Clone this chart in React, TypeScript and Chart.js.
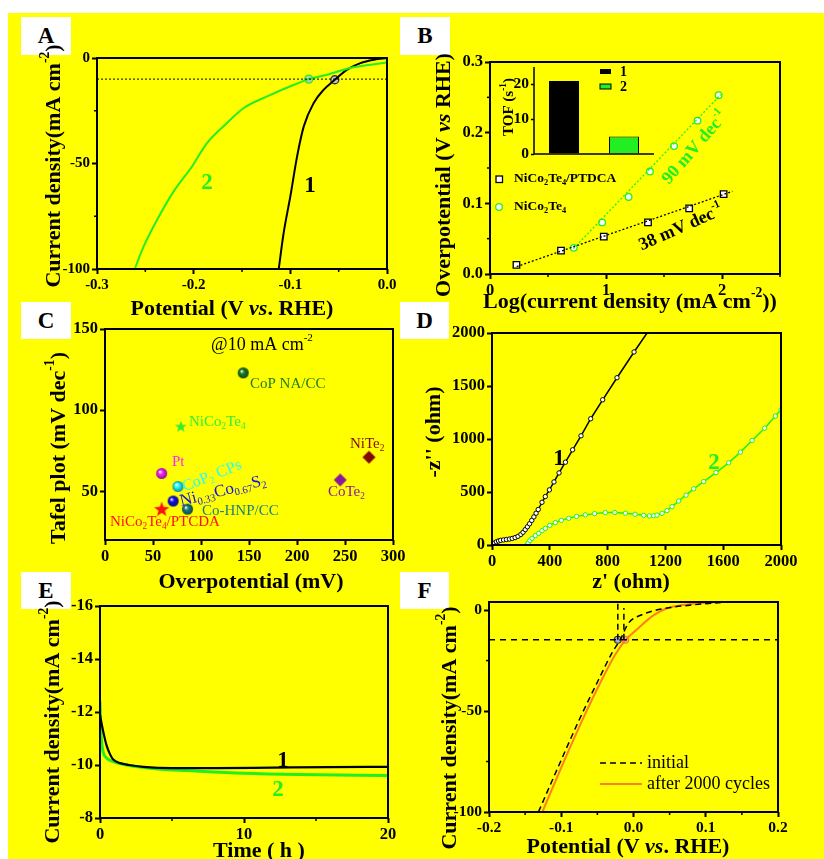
import React, { useEffect, useRef } from 'react';
import { Chart, registerables } from 'chart.js';
Chart.register(...registerables);

const W = 824;
const H = 859;
const AXW = 50;
const AXH = 26;
const FAM = '"Liberation Serif", "Times New Roman", "DejaVu Serif", serif';
const GREEN = '#22ee22';
const ORANGE = '#ff7f1e';

// ---------- Panel A : polarization curves ----------
const aPot1 = [-0.112, -0.1069, -0.1, -0.093, -0.0861, -0.0758, -0.0654, -0.054, -0.0413, -0.0275, -0.0136, 0];
const aCur1 = [-100, -82.9, -65.6, -46.6, -32.4, -21.3, -15.0, -10.3, -5.5, -2.4, -0.8, 0];
const aPot2 = [-0.261, -0.2517, -0.2396, -0.2207, -0.2017, -0.1862, -0.1655, -0.1482, -0.124, -0.1, -0.0809, -0.062, -0.0378, -0.0171, 0];
const aCur2 = [-100, -89.3, -78.2, -63.2, -51.4, -40.3, -30.8, -23.7, -18.2, -13.4, -10.0, -7.9, -4.7, -3.2, -2.1];
const aRefPot = [-0.3, 0];
const aRefCur = [-10, -10];
const aMarkPot = [-0.0809, -0.054];
const aMarkCur = [-10, -10.3];
const aTicksX = [-0.3, -0.2, -0.1, 0];
const aMinorX = [-0.25, -0.15, -0.05];
const aTicksY = [-100, -50, 0];
const aMinorY = [-75, -25];

// ---------- Panel B : Tafel ----------
const bLog1 = [0.228, 0.612, 0.981, 1.362, 1.717, 2.014];
const bEta1 = [0.013, 0.033, 0.053, 0.073, 0.093, 0.113];
const bLog2 = [0.722, 0.967, 1.195, 1.379, 1.587, 1.789, 1.971];
const bEta2 = [0.037, 0.073, 0.109, 0.145, 0.181, 0.217, 0.253];
const bFit1Log = [0.23, 2.09];
const bFit1Eta = [0.0105, 0.117];
const bFit2Log = [0.72, 1.99];
const bFit2Eta = [0.036, 0.254];
const bTicksX = [0, 1, 2];
const bMinorX = [0.5, 1.5, 2.5];
const bTicksY = [0, 0.1, 0.2, 0.3];
const bMinorY = [0.05, 0.15, 0.25];
// inset TOF
const tofLabels = ['1', '2'];
const tofValues = [21, 5];
const tofTicks = [0, 10, 20];

// ---------- Panel C : comparison ----------
const cNames = ['CoP NA/CC', 'NiCo2Te4', 'NiTe2', 'CoTe2', 'Pt', 'CoP2 CPs', 'Ni0.33Co0.67S2', 'Co-HNP/CC', 'NiCo2Te4/PTCDA'];
const cOverpotential = [144, 79, 275, 245, 59, 76, 71, 86, 59];
const cTafel = [123, 90, 71, 57, 61, 53, 44, 39, 39];
const cColors = ['#1f7f1f', '#33ee33', '#800a0a', '#8b1a9b', '#ff22ff', '#22ffff', '#1414e6', '#1a8080', '#ff1010'];
const cShapes = ['ball', 'star', 'diamond', 'diamond', 'ball', 'ball', 'ball', 'ball', 'bigstar'];
const cTicksX = [0, 50, 100, 150, 200, 250, 300];
const cTicksY = [50, 100, 150];

// ---------- Panel D : Nyquist ----------
const dRe1 = [0, 5, 15, 30, 45, 60, 80, 100, 120, 140, 160, 180, 200, 215, 230, 245, 260, 275, 290, 305, 320, 346, 369, 397, 429, 464, 508, 558, 616, 683, 766, 865, 983, 1073, 1090];
const dIm1 = [0, 5, 18, 30, 38, 44, 48, 52, 56, 62, 70, 82, 100, 120, 145, 172, 200, 232, 265, 300, 335, 403, 457, 520, 595, 680, 781, 898, 1030, 1191, 1370, 1578, 1821, 2000, 2035];
const dRe2 = [242, 250, 262, 277, 300, 323, 346, 369, 400, 438, 480, 531, 585, 646, 710, 784, 850, 923, 990, 1050, 1089, 1119, 1142, 1177, 1211, 1246, 1292, 1343, 1396, 1465, 1550, 1638, 1719, 1800, 1887, 1961, 2000];
const dIm2 = [0, 20, 42, 63, 88, 110, 135, 157, 185, 211, 233, 252, 270, 284, 296, 306, 306, 300, 290, 280, 274, 276, 282, 299, 324, 362, 415, 470, 530, 598, 683, 775, 876, 986, 1102, 1216, 1276];
const dTicksX = [0, 400, 800, 1200, 1600, 2000];
const dTicksY = [0, 500, 1000, 1500, 2000];

// ---------- Panel E : chronoamperometry ----------
const eTime1 = [0, 0.1, 0.25, 0.45, 0.7, 0.9, 1.4, 2, 3, 5, 8, 12, 16, 20];
const eCur1 = [-11.9, -11.6, -11.2, -10.75, -10.4, -10.22, -10.07, -10.0, -9.93, -9.88, -9.88, -9.9, -9.92, -9.93];
const eTime2 = [0, 0.05, 0.12, 0.23, 0.46, 0.92, 1.6, 2.8, 4.2, 6, 10, 13.8, 20];
const eCur2 = [-12.4, -11.5, -10.83, -10.47, -10.26, -10.13, -10.03, -9.92, -9.84, -9.79, -9.69, -9.64, -9.6];
const eTicksX = [0, 10, 20];
const eMinorX = [5, 15];
const eTicksY = [-16, -14, -12, -10, -8];

// ---------- Panel F : durability ----------
const fPotInit = [-0.1316, -0.1039, -0.0761, -0.0484, -0.0299, -0.0184, -0.0068, 0.0116, 0.03, 0.053, 0.0855, 0.122];
const fCurInit = [-100, -77.4, -55.1, -34.5, -21.3, -14.7, -6.4, -2.3, -0.13, 1.36, 2.7, 3.8];
const fPotAfter = [-0.1261, -0.0993, -0.0716, -0.0439, -0.0254, -0.0115, 0.007, 0.0255, 0.044, 0.0624, 0.0855, 0.1086, 0.122, 0.2];
const fCurAfter = [-100, -77.4, -55.1, -34.5, -22.1, -15.0, -8.9, -3.1, 0.53, 2.2, 3.2, 3.8, 4.0, 4.0];
const fRefPot = [-0.2, 0.2];
const fRefCur = [-14.7, -14.7];
const fVert1Pot = [-0.0217, -0.0217];
const fVert1Cur = [-14.7, 4];
const fVert2Pot = [-0.0133, -0.0133];
const fVert2Cur = [-14.7, 1.0];
const fMarkPot = [-0.0217, -0.0115];
const fMarkCur = [-14.7, -14.7];
const fTicksX = [-0.2, -0.1, 0, 0.1, 0.2];
const fMinorX = [-0.15, -0.05, 0.05, 0.15];
const fTicksY = [-100, -50, 0];
const fMinorY = [-75, -25];

// ---------- helpers ----------
const zip = (xs: number[], ys: number[]) => xs.map((x, i) => ({ x, y: ys[i] }));

type Seg = { t: string; s?: 'sup' | 'sub'; i?: boolean };
type TextItem = { x: number; y: number; segs: Seg[]; size?: number; bold?: boolean; color?: string; align?: 'left' | 'center'; rot?: number };

const fontOf = (size: number, bold: boolean, italic: boolean) =>
  `${italic ? 'italic ' : ''}${bold ? 'bold ' : ''}${size}px ${FAM}`;

function drawRich(ctx: CanvasRenderingContext2D, it: TextItem) {
  const size = it.size ?? 22;
  const bold = it.bold ?? true;
  ctx.save();
  ctx.translate(it.x, it.y);
  if (it.rot) ctx.rotate((it.rot * Math.PI) / 180);
  ctx.fillStyle = it.color ?? '#000';
  ctx.textBaseline = 'middle';
  ctx.textAlign = 'left';
  const parts = it.segs.map((sg) => {
    const sz = sg.s ? size * 0.62 : size;
    const f = fontOf(sz, bold, !!sg.i);
    ctx.font = f;
    return { sg, f, w: ctx.measureText(sg.t).width };
  });
  const total = parts.reduce((a, p) => a + p.w, 0);
  let cx = (it.align ?? 'center') === 'center' ? -total / 2 : 0;
  for (const p of parts) {
    ctx.font = p.f;
    const dy = p.sg.s === 'sup' ? -size * 0.38 : p.sg.s === 'sub' ? size * 0.28 : 0;
    ctx.fillText(p.sg.t, cx, dy);
    cx += p.w;
  }
  ctx.restore();
}

function deco(cfg: any) {
  return {
    id: 'deco',
    afterDraw(chart: any) {
      const ctx = chart.ctx as CanvasRenderingContext2D;
      const ca = chart.chartArea;
      ctx.save();
      ctx.strokeStyle = '#000';
      if (cfg.frame !== 'none') {
        ctx.lineWidth = cfg.frameWidth ?? 2;
        if (cfg.frame === 'lb') {
          ctx.beginPath();
          ctx.moveTo(ca.left, ca.top);
          ctx.lineTo(ca.left, ca.bottom);
          ctx.lineTo(ca.right, ca.bottom);
          ctx.stroke();
        } else {
          ctx.strokeRect(ca.left, ca.top, ca.right - ca.left, ca.bottom - ca.top);
        }
      }
      ctx.lineWidth = 1.5;
      const xs = chart.scales.x;
      const ys = chart.scales.y;
      (cfg.minorX || []).forEach((v: number) => {
        const p = xs.getPixelForValue(v);
        ctx.beginPath();
        ctx.moveTo(p, ca.bottom);
        ctx.lineTo(p, ca.bottom + 3);
        ctx.stroke();
      });
      (cfg.minorY || []).forEach((v: number) => {
        const p = ys.getPixelForValue(v);
        ctx.beginPath();
        ctx.moveTo(ca.left, p);
        ctx.lineTo(ca.left - 3, p);
        ctx.stroke();
      });
      if (cfg.extra) cfg.extra(ctx);
      (cfg.texts || []).forEach((t: TextItem) => drawRich(ctx, t));
      ctx.restore();
    },
  };
}

function linAxis(axis: 'x' | 'y', min: number, max: number, ticks: number[], fmt: (v: number) => string, size = 15, extra: any = {}) {
  return {
    type: 'linear',
    position: axis === 'x' ? 'bottom' : 'left',
    min,
    max,
    afterBuildTicks: (s: any) => {
      s.ticks = ticks.map((v) => ({ value: v }));
    },
    afterFit: (s: any) => {
      if (axis === 'x') s.height = AXH;
      else s.width = AXW;
    },
    grid: { display: true, drawOnChartArea: false, drawTicks: true, tickLength: 5, tickWidth: 2, tickColor: '#000', color: '#000' },
    border: { display: false },
    ticks: {
      font: { family: FAM, weight: 'bold', size },
      color: '#000',
      padding: 2,
      maxRotation: 0,
      autoSkip: false,
      callback: (v: any) => fmt(Number(v)),
    },
    ...extra,
  };
}

const pad = (L: number, T: number, R: number, B: number) => ({ left: L - AXW, top: T, right: W - R, bottom: H - B - AXH });

function baseOptions(area: number[], scales: any) {
  return {
    responsive: false,
    animation: false,
    events: [],
    layout: { padding: pad(area[0], area[1], area[2], area[3]) },
    plugins: { legend: { display: false }, tooltip: { enabled: false } },
    scales,
  };
}

const line = (data: any, color: string, width: number, extra: any = {}) => ({
  data,
  showLine: true,
  borderColor: color,
  borderWidth: width,
  pointRadius: 0,
  fill: false,
  tension: 0,
  ...extra,
});

function darken(hex: string, f: number) {
  const n = parseInt(hex.slice(1), 16);
  const r = Math.round(((n >> 16) & 255) * f);
  const g = Math.round(((n >> 8) & 255) * f);
  const b = Math.round((n & 255) * f);
  return `rgb(${r},${g},${b})`;
}

function makeMarker(shape: string, color: string) {
  const c = document.createElement('canvas');
  const size = shape === 'bigstar' ? 18 : shape === 'star' ? 14 : shape === 'diamond' ? 15 : 13;
  c.width = size;
  c.height = size;
  const ctx = c.getContext('2d') as CanvasRenderingContext2D;
  const m = size / 2;
  if (shape === 'ball') {
    const r = 5.5;
    const g = ctx.createRadialGradient(m - 1.8, m - 1.8, 0.3, m, m, r);
    g.addColorStop(0, '#ffffff');
    g.addColorStop(0.35, color);
    g.addColorStop(1, darken(color, 0.55));
    ctx.fillStyle = g;
    ctx.beginPath();
    ctx.arc(m, m, r, 0, Math.PI * 2);
    ctx.fill();
  } else if (shape === 'diamond') {
    const r = 6.5;
    ctx.fillStyle = color;
    ctx.beginPath();
    ctx.moveTo(m, m - r);
    ctx.lineTo(m + r, m);
    ctx.lineTo(m, m + r);
    ctx.lineTo(m - r, m);
    ctx.closePath();
    ctx.fill();
  } else {
    const R = shape === 'bigstar' ? 8 : 6.2;
    const r = R * 0.42;
    ctx.fillStyle = color;
    ctx.beginPath();
    for (let i = 0; i < 10; i++) {
      const a = -Math.PI / 2 + (i * Math.PI) / 5;
      const rr = i % 2 ? r : R;
      const px = m + rr * Math.cos(a);
      const py = m + 0.5 + rr * Math.sin(a);
      if (i === 0) ctx.moveTo(px, py);
      else ctx.lineTo(px, py);
    }
    ctx.closePath();
    ctx.fill();
  }
  return c;
}

const T = (t: string, s?: 'sup' | 'sub', i?: boolean): Seg => ({ t, s, i });
const curDensity = [T('Current density(mA cm'), T('-2', 'sup'), T(')')];
const potTitle = [T('Potential (V '), T('vs', undefined, true), T('. RHE)')];
const nico = [T('NiCo'), T('2', 'sub'), T('Te'), T('4', 'sub')];

const boxes = [
  { t: 'A', x: 21, y: 17, w: 50, h: 38 },
  { t: 'B', x: 400, y: 17, w: 50, h: 38 },
  { t: 'C', x: 21, y: 302, w: 50, h: 37 },
  { t: 'D', x: 400, y: 302, w: 49, h: 37 },
  { t: 'E', x: 21, y: 572, w: 50, h: 37 },
  { t: 'F', x: 400, y: 572, w: 49, h: 37 },
];

export default function App() {
  const refs = useRef<(HTMLCanvasElement | null)[]>([]);

  useEffect(() => {
    const charts: Chart[] = [];
    const cv = refs.current;

    // ---- A ----
    charts.push(
      new Chart(cv[0] as HTMLCanvasElement, {
        type: 'scatter',
        data: {
          datasets: [
            line(zip(aRefPot, aRefCur), '#000', 1, { borderDash: [2, 2] }),
            line(zip(aPot2, aCur2), GREEN, 2, { cubicInterpolationMode: 'monotone' }),
            line(zip(aPot1, aCur1), '#000', 2, { cubicInterpolationMode: 'monotone' }),
            {
              data: zip(aMarkPot, aMarkCur),
              showLine: false,
              pointRadius: 4,
              pointBackgroundColor: '#c4c4c4',
              pointBorderColor: [GREEN, '#333'],
              pointBorderWidth: 1.3,
            },
          ],
        } as any,
        options: baseOptions([97, 58, 387, 269], {
          x: linAxis('x', -0.3, 0, aTicksX, (v) => v.toFixed(1), 15),
          y: linAxis('y', -100, 0, aTicksY, (v) => String(v), 15),
        }) as any,
        plugins: [
          deco({
            minorX: aMinorX,
            minorY: aMinorY,
            texts: [
              { x: 54, y: 166, rot: -90, segs: curDensity },
              { x: 232, y: 309, segs: potTitle },
              { x: 207, y: 183, size: 23, color: GREEN, segs: [T('2')] },
              { x: 310, y: 186, size: 23, segs: [T('1')] },
            ],
          }),
        ],
      })
    );

    // ---- B ----
    charts.push(
      new Chart(cv[1] as HTMLCanvasElement, {
        type: 'scatter',
        data: {
          datasets: [
            line(zip(bFit1Log, bFit1Eta), '#000', 1.3, { borderDash: [2, 2] }),
            line(zip(bFit2Log, bFit2Eta), GREEN, 1.3, { borderDash: [2, 2] }),
            {
              data: zip(bLog1, bEta1),
              showLine: false,
              pointStyle: 'rect',
              pointRadius: 4.6,
              pointBackgroundColor: '#fff',
              pointBorderColor: '#000',
              pointBorderWidth: 1.3,
            },
            {
              data: zip(bLog2, bEta2),
              showLine: false,
              pointStyle: 'circle',
              pointRadius: 3.3,
              pointBackgroundColor: '#fff',
              pointBorderColor: GREEN,
              pointBorderWidth: 1.3,
            },
          ],
        } as any,
        options: baseOptions([490, 62, 780, 274], {
          x: linAxis('x', 0, 2.5, bTicksX, (v) => String(v), 16.5),
          y: linAxis('y', 0, 0.3, bTicksY, (v) => v.toFixed(1), 16.5),
        }) as any,
        plugins: [
          deco({
            minorX: bMinorX,
            minorY: bMinorY,
            extra: (ctx: CanvasRenderingContext2D) => {
              ctx.save();
              ctx.lineWidth = 1.3;
              ctx.fillStyle = '#fff';
              ctx.strokeStyle = '#000';
              ctx.fillRect(496, 176, 6.5, 6.5);
              ctx.strokeRect(496, 176, 6.5, 6.5);
              ctx.strokeStyle = GREEN;
              ctx.beginPath();
              ctx.arc(499, 207, 3.3, 0, Math.PI * 2);
              ctx.fill();
              ctx.stroke();
              ctx.restore();
            },
            texts: [
              { x: 444, y: 175, rot: -90, segs: [T('Overpotential (V '), T('vs', undefined, true), T(' RHE)')] },
              { x: 630, y: 302, segs: [T('Log(current density (mA cm'), T('-2', 'sup'), T('))')] },
              { x: 514, y: 179, size: 13.5, align: 'left', segs: [...nico, T('/PTDCA')] },
              { x: 514, y: 207, size: 13.5, align: 'left', segs: nico },
              { x: 695, y: 148, rot: -49, size: 18, color: GREEN, segs: [T('90 mV dec'), T('-1', 'sup')] },
              { x: 681, y: 228, rot: -24, size: 18, segs: [T('38 mV dec'), T('-1', 'sup')] },
            ],
          }),
        ],
      })
    );

    // ---- B inset ----
    charts.push(
      new Chart(cv[2] as HTMLCanvasElement, {
        type: 'bar',
        data: {
          labels: tofLabels,
          datasets: [
            {
              data: tofValues,
              backgroundColor: ['#000', GREEN],
              borderColor: '#000',
              borderWidth: 1,
              barPercentage: 0.5,
              categoryPercentage: 1,
            },
          ],
        },
        options: baseOptions([534, 67, 654, 154], {
          x: {
            type: 'category',
            offset: true,
            grid: { display: false },
            border: { display: false },
            ticks: { display: false },
            afterFit: (s: any) => {
              s.height = AXH;
            },
          },
          y: linAxis('y', 0, 25, tofTicks, (v) => String(v), 15.5, {
            grid: { display: true, drawOnChartArea: false, tickLength: 3, tickWidth: 1.5, tickColor: '#000' },
          }),
        }) as any,
        plugins: [
          deco({
            frame: 'lb',
            frameWidth: 1.5,
            extra: (ctx: CanvasRenderingContext2D) => {
              ctx.save();
              ctx.fillStyle = '#000';
              ctx.fillRect(600, 69, 11, 5);
              ctx.fillStyle = GREEN;
              ctx.strokeStyle = '#000';
              ctx.lineWidth = 1;
              ctx.fillRect(600, 84, 11, 5);
              ctx.strokeRect(600, 84, 11, 5);
              ctx.restore();
            },
            texts: [
              { x: 509, y: 107, rot: -90, size: 15, segs: [T('TOF (s'), T('-1', 'sup'), T(')')] },
              { x: 620, y: 72, size: 14, align: 'left', segs: [T('1')] },
              { x: 620, y: 87, size: 14, align: 'left', segs: [T('2')] },
            ],
          }),
        ],
      })
    );

    // ---- C ----
    charts.push(
      new Chart(cv[3] as HTMLCanvasElement, {
        type: 'scatter',
        data: {
          datasets: [
            {
              label: 'catalysts',
              data: zip(cOverpotential, cTafel).map((p, i) => ({ ...p, name: cNames[i] })),
              showLine: false,
              pointRadius: 6,
              pointStyle: cShapes.map((s, i) => makeMarker(s, cColors[i])),
            },
          ],
        } as any,
        options: baseOptions([105, 329, 393, 540], {
          x: linAxis('x', 0, 300, cTicksX, (v) => String(v), 16.5),
          y: linAxis('y', 20, 150, cTicksY, (v) => String(v), 16.5),
        }) as any,
        plugins: [
          deco({
            texts: [
              { x: 59, y: 448, rot: -90, segs: [T('Tafel plot (mV dec'), T('-1', 'sup'), T(')')] },
              { x: 251, y: 582, segs: [T('Overpotential (mV)')] },
              { x: 262, y: 345, size: 18, bold: false, segs: [T('@10 mA cm'), T('-2', 'sup')] },
              { x: 250, y: 384, size: 15, bold: false, align: 'left', color: cColors[0], segs: [T('CoP NA/CC')] },
              { x: 189, y: 422, size: 15, bold: false, align: 'left', color: cColors[1], segs: nico },
              { x: 350, y: 444, size: 15, bold: false, align: 'left', color: cColors[2], segs: [T('NiTe'), T('2', 'sub')] },
              { x: 328, y: 492, size: 15, bold: false, align: 'left', color: cColors[3], segs: [T('CoTe'), T('2', 'sub')] },
              { x: 172, y: 462, size: 15, bold: false, align: 'left', color: cColors[4], segs: [T('Pt')] },
              { x: 212, y: 476, size: 16, bold: false, rot: -22, color: cColors[5], segs: [T('CoP'), T('2', 'sub'), T(' CPs')] },
              { x: 223, y: 491, size: 17, bold: false, rot: -14, color: cColors[6], segs: [T('Ni'), T('0.33', 'sub'), T('Co'), T('0.67', 'sub'), T('S'), T('2', 'sub')] },
              { x: 202, y: 511, size: 15, bold: false, align: 'left', color: cColors[7], segs: [T('Co-HNP/CC')] },
              { x: 110, y: 522, size: 15, bold: false, align: 'left', color: cColors[8], segs: [...nico, T('/PTCDA')] },
            ],
          }),
        ],
      })
    );

    // ---- D ----
    const r1 = dRe1.map((_, i) => (i >= dRe1.length - 2 ? 0 : 2.2));
    charts.push(
      new Chart(cv[4] as HTMLCanvasElement, {
        type: 'scatter',
        data: {
          datasets: [
            line(zip(dRe2, dIm2), GREEN, 1.5, {
              pointRadius: 2.2,
              pointBackgroundColor: '#fff',
              pointBorderColor: GREEN,
              pointBorderWidth: 1,
            }),
            line(zip(dRe1, dIm1), '#000', 1.5, {
              pointRadius: r1,
              pointBackgroundColor: '#fff',
              pointBorderColor: '#000',
              pointBorderWidth: 1,
            }),
          ],
        } as any,
        options: baseOptions([492, 333, 781, 545], {
          x: linAxis('x', 0, 2000, dTicksX, (v) => String(v), 16.5),
          y: linAxis('y', 0, 2000, dTicksY, (v) => String(v), 16.5),
        }) as any,
        plugins: [
          deco({
            texts: [
              { x: 434, y: 432, rot: -90, segs: [T("-z'' (ohm)")] },
              { x: 631, y: 582, segs: [T("z' (ohm)")] },
              { x: 559, y: 459, size: 23, segs: [T('1')] },
              { x: 714, y: 463, size: 23, color: GREEN, segs: [T('2')] },
            ],
          }),
        ],
      })
    );

    // ---- E ----
    charts.push(
      new Chart(cv[5] as HTMLCanvasElement, {
        type: 'scatter',
        data: {
          datasets: [
            line(zip(eTime1, eCur1), '#000', 2.2, { cubicInterpolationMode: 'monotone' }),
            line(zip(eTime2, eCur2), GREEN, 3, { cubicInterpolationMode: 'monotone' }),
          ],
        } as any,
        options: baseOptions([100, 606, 388, 818], {
          x: linAxis('x', 0, 20, eTicksX, (v) => String(v), 16.5),
          y: linAxis('y', -16, -8, eTicksY, (v) => String(v), 16.5, { reverse: true }),
        }) as any,
        plugins: [
          deco({
            minorX: eMinorX,
            texts: [
              { x: 53, y: 722, rot: -90, segs: curDensity },
              { x: 259, y: 851, segs: [T('Time ( h )')] },
              { x: 283, y: 761, size: 23, segs: [T('1')] },
              { x: 278, y: 790, size: 23, color: GREEN, segs: [T('2')] },
            ],
          }),
        ],
      })
    );

    // ---- F ----
    charts.push(
      new Chart(cv[6] as HTMLCanvasElement, {
        type: 'scatter',
        data: {
          datasets: [
            line(zip(fRefPot, fRefCur), '#000', 1.5, { borderDash: [6, 5] }),
            line(zip(fVert1Pot, fVert1Cur), '#000', 1.5, { borderDash: [6, 4] }),
            line(zip(fVert2Pot, fVert2Cur), '#000', 1.5, { borderDash: [6, 4] }),
            line(zip(fPotInit, fCurInit), '#000', 1.5, { borderDash: [6, 4], cubicInterpolationMode: 'monotone' }),
            line(zip(fPotAfter, fCurAfter), ORANGE, 2, { cubicInterpolationMode: 'monotone' }),
            {
              data: zip(fMarkPot, fMarkCur),
              showLine: false,
              pointRadius: 3.5,
              pointBackgroundColor: ['#a8b0c8', '#d8b8b8'],
              pointBorderColor: ['#333', ORANGE],
              pointBorderWidth: 1.2,
            },
          ],
        } as any,
        options: baseOptions([489, 602, 778, 812], {
          x: linAxis('x', -0.2, 0.2, fTicksX, (v) => v.toFixed(1), 15.5),
          y: linAxis('y', -100, 4, fTicksY, (v) => String(v), 15.5),
        }) as any,
        plugins: [
          deco({
            minorX: fMinorX,
            minorY: fMinorY,
            extra: (ctx: CanvasRenderingContext2D) => {
              ctx.save();
              ctx.strokeStyle = '#000';
              ctx.lineWidth = 1.5;
              ctx.setLineDash([6, 4]);
              ctx.beginPath();
              ctx.moveTo(600, 763);
              ctx.lineTo(642, 763);
              ctx.stroke();
              ctx.setLineDash([]);
              ctx.strokeStyle = ORANGE;
              ctx.lineWidth = 2;
              ctx.beginPath();
              ctx.moveTo(600, 784);
              ctx.lineTo(642, 784);
              ctx.stroke();
              ctx.restore();
            },
            texts: [
              { x: 450, y: 728, rot: -90, segs: curDensity },
              { x: 628, y: 847, segs: potTitle },
              { x: 647, y: 763, size: 18, bold: false, align: 'left', segs: [T('initial')] },
              { x: 647, y: 784, size: 18, bold: false, align: 'left', segs: [T('after 2000 cycles')] },
            ],
          }),
        ],
      })
    );

    return () => charts.forEach((c) => c.destroy());
  }, []);

  return (
    <div style={{ position: 'absolute', left: 0, top: 0, width: W, height: H, background: '#fff', overflow: 'hidden' }}>
      <div style={{ position: 'absolute', left: 8, top: 13, width: W - 8, height: H - 13, background: '#ffff00' }} />
      {boxes.map((b) => (
        <div
          key={b.t}
          style={{
            position: 'absolute',
            left: b.x,
            top: b.y,
            width: b.w,
            height: b.h,
            background: '#fff',
            font: `bold 23px ${FAM}`,
            color: '#000',
            display: 'flex',
            alignItems: 'center',
            justifyContent: 'center',
          }}
        >
          {b.t}
        </div>
      ))}
      {[0, 1, 2, 3, 4, 5, 6].map((i) => (
        <canvas
          key={i}
          ref={(el) => {
            refs.current[i] = el;
          }}
          width={W}
          height={H}
          style={{ position: 'absolute', left: 0, top: 0, width: W, height: H }}
        />
      ))}
    </div>
  );
}
